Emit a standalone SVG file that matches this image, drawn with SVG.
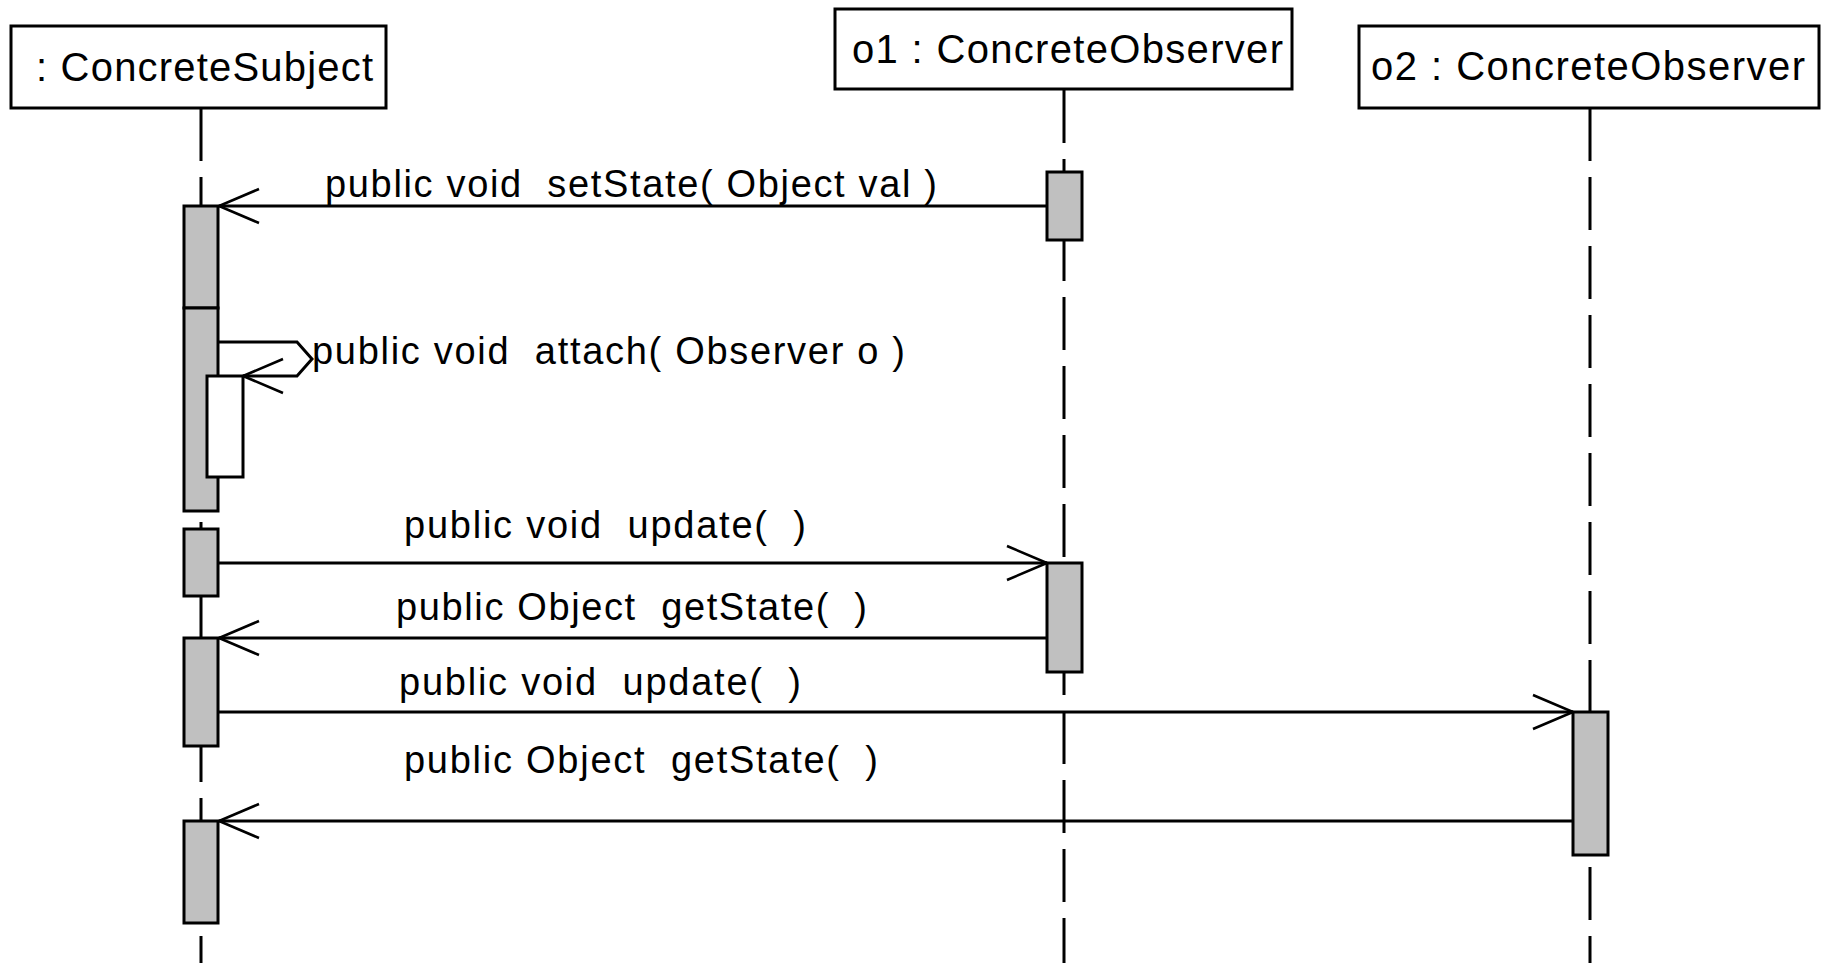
<svg xmlns="http://www.w3.org/2000/svg" width="1822" height="963" viewBox="0 0 1822 963">
  <style>
    .box { fill: #ffffff; stroke: #000000; stroke-width: 3; }
    .title { font-family: "Liberation Sans", Arial, sans-serif; font-size: 40px; fill: #000000; white-space: pre; }
    .life { stroke: #000000; stroke-width: 3; stroke-dasharray: 53 16; fill: none; }
    .act { fill: #c0c0c0; stroke: #000000; stroke-width: 3; }
    .act-self { fill: #ffffff; stroke: #000000; stroke-width: 3; }
    .msg { stroke: #000000; stroke-width: 3; fill: none; marker-end: url(#open); }
    .label { font-family: "Liberation Sans", Arial, sans-serif; font-size: 38px; fill: #000000; white-space: pre; }
  </style>
  <defs>
    <marker id="open" markerUnits="userSpaceOnUse" markerWidth="60" markerHeight="60" viewBox="-50 -25 60 50" refX="0" refY="0" orient="auto" overflow="visible">
      <path d="M-40,-17 L0,0 L-40,17" fill="none" stroke="#000000" stroke-width="2.6"/>
    </marker>
  </defs>
  <rect width="1822" height="963" fill="#ffffff"/>

  <!-- lifeline: subject -->
  <g id="subject">
    <line class="life" x1="201" y1="108" x2="201" y2="963"/>
    <rect class="box" x="11" y="26" width="375" height="82"/>
    <text class="title" x="36" y="81" textLength="337" lengthAdjust="spacing" xml:space="preserve">: ConcreteSubject</text>
    <rect class="act" x="184" y="206" width="34" height="102"/>
    <rect class="act" x="184" y="308" width="34" height="203"/>
    <rect class="act-self" x="207" y="376" width="36" height="101"/>
    <rect class="act" x="184" y="529" width="34" height="67"/>
    <rect class="act" x="184" y="638" width="34" height="108"/>
    <rect class="act" x="184" y="821" width="34" height="102"/>
  </g>

  <!-- lifeline: o1 -->
  <g id="o1">
    <line class="life" x1="1064" y1="90" x2="1064" y2="963"/>
    <rect class="box" x="835" y="9" width="457" height="80"/>
    <text class="title" x="852" y="63" textLength="431" lengthAdjust="spacing" xml:space="preserve">o1 : ConcreteObserver</text>
    <rect class="act" x="1047" y="172" width="35" height="68"/>
    <rect class="act" x="1047" y="563" width="35" height="109"/>
  </g>

  <!-- lifeline: o2 -->
  <g id="o2">
    <line class="life" x1="1590" y1="108" x2="1590" y2="963"/>
    <rect class="box" x="1359" y="26" width="460" height="82"/>
    <text class="title" x="1371" y="80" textLength="434" lengthAdjust="spacing" xml:space="preserve">o2 : ConcreteObserver</text>
    <rect class="act" x="1573" y="712" width="35" height="143"/>
  </g>

  <!-- messages -->
  <g id="connectors">
    <line class="msg" x1="1047" y1="206" x2="219" y2="206"/>
    <polyline class="msg" points="218,342 297,342 312,359 297,376 243,376"/>
    <line class="msg" x1="218" y1="563" x2="1047" y2="563"/>
    <line class="msg" x1="1047" y1="638" x2="219" y2="638"/>
    <line class="msg" x1="218" y1="712" x2="1573" y2="712"/>
    <line class="msg" x1="1573" y1="821" x2="219" y2="821"/>

    <text class="label" x="325" y="197" textLength="612" lengthAdjust="spacing" xml:space="preserve">public void  setState( Object val )</text>
    <text class="label" x="312" y="364" textLength="593" lengthAdjust="spacing" xml:space="preserve">public void  attach( Observer o )</text>
    <text class="label" x="404" y="538" textLength="402" lengthAdjust="spacing" xml:space="preserve">public void  update(  )</text>
    <text class="label" x="396" y="620" textLength="471" lengthAdjust="spacing" xml:space="preserve">public Object  getState(  )</text>
    <text class="label" x="399" y="695" textLength="402" lengthAdjust="spacing" xml:space="preserve">public void  update(  )</text>
    <text class="label" x="404" y="773" textLength="474" lengthAdjust="spacing" xml:space="preserve">public Object  getState(  )</text>
  </g>
</svg>
